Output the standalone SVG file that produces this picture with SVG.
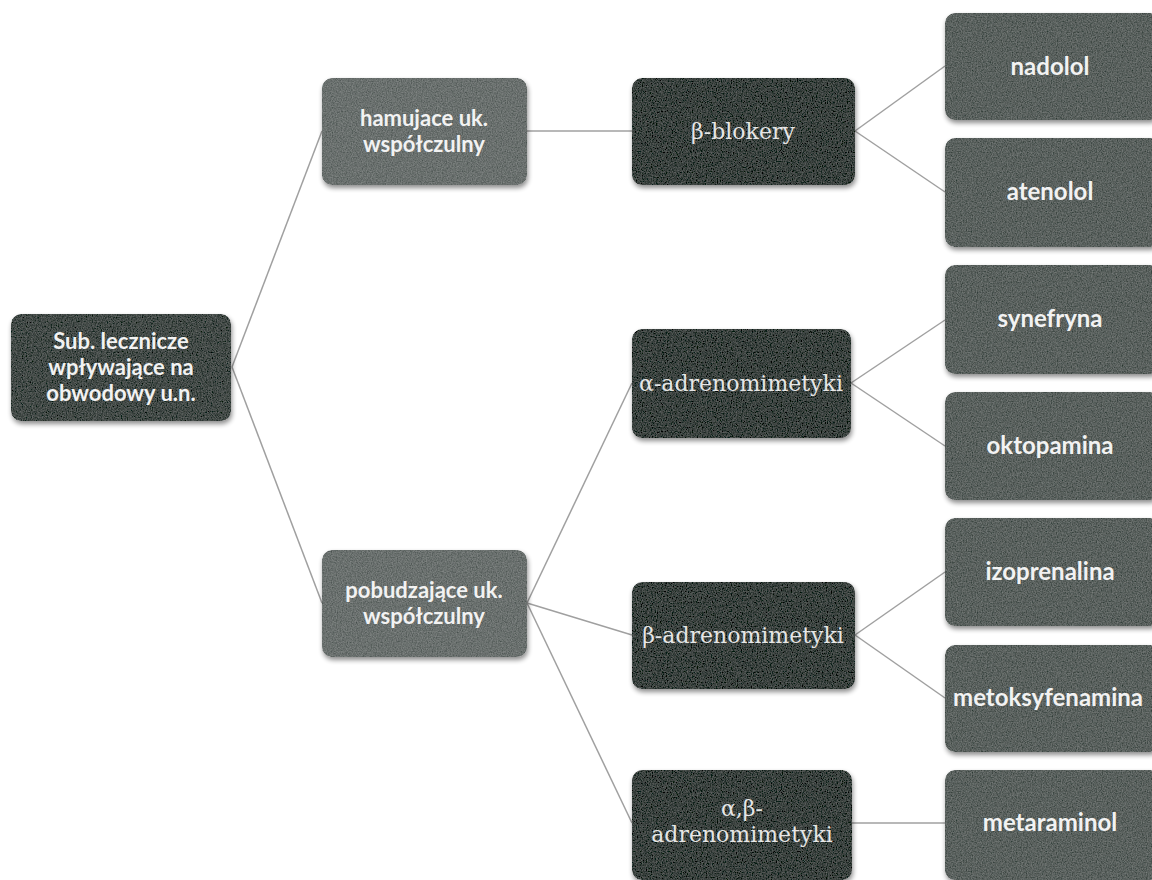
<svg xmlns="http://www.w3.org/2000/svg" width="1152" height="880" viewBox="0 0 1152 880">
  <defs>
    <filter id="sh" x="-10%" y="-10%" width="125%" height="130%">
      <feGaussianBlur in="SourceAlpha" stdDeviation="2.5"/>
      <feOffset dx="1" dy="3"/>
      <feComponentTransfer result="shadow"><feFuncA type="linear" slope="0.45"/></feComponentTransfer>
      <feTurbulence type="fractalNoise" baseFrequency="0.8" numOctaves="2" seed="3" result="noise"/>
      <feColorMatrix in="noise" type="matrix" values="1 0 0 0 0  1 0 0 0 0  1 0 0 0 0  0 0 0 0 1" result="gray"/>
      <feComposite in="gray" in2="SourceGraphic" operator="arithmetic" k1="0" k2="0.22" k3="1" k4="-0.11" result="grained"/>
      <feComposite in="grained" in2="SourceGraphic" operator="in" result="body"/>
      <feMerge><feMergeNode in="shadow"/><feMergeNode in="body"/></feMerge>
    </filter>
    <style>
      .root { fill: #434a47; }
      .l1 { fill: #6a706e; }
      .l2 { fill: #3b423f; }
      .leaf { fill: #5a615e; }
      rect.n { filter: url(#sh); }
      .sans { font-family: Lato, "Open Sans", "Liberation Sans", sans-serif; font-weight: bold; font-size: 22px; fill: #f2f2f2; text-anchor: middle; }
      .big { font-size: 24px; }
      .serif { font-family: "DejaVu Serif", "Liberation Serif", serif; font-size: 22px; fill: #e6e6e6; text-anchor: middle; }
      .conn line { stroke: #a0a0a0; stroke-width: 1.5; fill: none; }
    </style>
  </defs>
  <rect x="0" y="0" width="1152" height="880" fill="#ffffff"/>

  <g class="conn" id="connectors">
    <line x1="232" y1="367" x2="322" y2="131"/>
    <line x1="232" y1="367" x2="322" y2="603"/>
    <line x1="527" y1="131" x2="632" y2="131"/>
    <line x1="855" y1="131" x2="945" y2="66"/>
    <line x1="855" y1="131" x2="945" y2="192"/>
    <line x1="527" y1="603" x2="632" y2="383"/>
    <line x1="527" y1="603" x2="632" y2="635"/>
    <line x1="527" y1="603" x2="632" y2="823"/>
    <line x1="851" y1="383" x2="945" y2="320"/>
    <line x1="851" y1="383" x2="945" y2="446"/>
    <line x1="855" y1="635" x2="945" y2="572"/>
    <line x1="855" y1="635" x2="945" y2="698"/>
    <line x1="852" y1="823" x2="945" y2="823"/>
  </g>

  <g id="root">
    <rect class="n root" x="11" y="314" width="220" height="107" rx="10"/>
    <text class="sans" x="121" y="349">Sub. lecznicze</text>
    <text class="sans" x="121" y="375">wpływające na</text>
    <text class="sans" x="121" y="401">obwodowy u.n.</text>
  </g>

  <g id="hamujace">
    <rect class="n l1" x="322" y="78" width="205" height="107" rx="10"/>
    <text class="sans" x="424" y="126">hamujace uk.</text>
    <text class="sans" x="424" y="152">współczulny</text>
  </g>

  <g id="pobudzajace">
    <rect class="n l1" x="322" y="550" width="205" height="107" rx="10"/>
    <text class="sans" x="424" y="598">pobudzające uk.</text>
    <text class="sans" x="424" y="624">współczulny</text>
  </g>

  <g id="beta-blokery">
    <rect class="n l2" x="632" y="78" width="223" height="107" rx="10"/>
    <text class="serif" x="743" y="139">β-blokery</text>
  </g>

  <g id="alfa-adrenomimetyki">
    <rect class="n l2" x="632" y="329" width="219" height="109" rx="10"/>
    <text class="serif" x="741" y="391">α-adrenomimetyki</text>
  </g>

  <g id="beta-adrenomimetyki">
    <rect class="n l2" x="632" y="582" width="223" height="107" rx="10"/>
    <text class="serif" x="743" y="643">β-adrenomimetyki</text>
  </g>

  <g id="alfa-beta-adrenomimetyki">
    <rect class="n l2" x="632" y="770" width="220" height="110" rx="10"/>
    <text class="serif" x="742" y="816">α,β-</text>
    <text class="serif" x="742" y="842">adrenomimetyki</text>
  </g>

  <g id="nadolol">
    <rect class="n leaf" x="945" y="13" width="215" height="107" rx="10"/>
    <text class="sans big" x="1050" y="75">nadolol</text>
  </g>
  <g id="atenolol">
    <rect class="n leaf" x="945" y="138" width="215" height="109" rx="10"/>
    <text class="sans big" x="1050" y="200">atenolol</text>
  </g>
  <g id="synefryna">
    <rect class="n leaf" x="945" y="265" width="215" height="109" rx="10"/>
    <text class="sans big" x="1050" y="327">synefryna</text>
  </g>
  <g id="oktopamina">
    <rect class="n leaf" x="945" y="392" width="215" height="108" rx="10"/>
    <text class="sans big" x="1050" y="454">oktopamina</text>
  </g>
  <g id="izoprenalina">
    <rect class="n leaf" x="945" y="518" width="215" height="108" rx="10"/>
    <text class="sans big" x="1050" y="580">izoprenalina</text>
  </g>
  <g id="metoksyfenamina">
    <rect class="n leaf" x="945" y="645" width="215" height="107" rx="10"/>
    <text class="sans big" x="1048" y="706">metoksyfenamina</text>
  </g>
  <g id="metaraminol">
    <rect class="n leaf" x="945" y="770" width="215" height="110" rx="10"/>
    <text class="sans big" x="1050" y="831">metaraminol</text>
  </g>
</svg>
